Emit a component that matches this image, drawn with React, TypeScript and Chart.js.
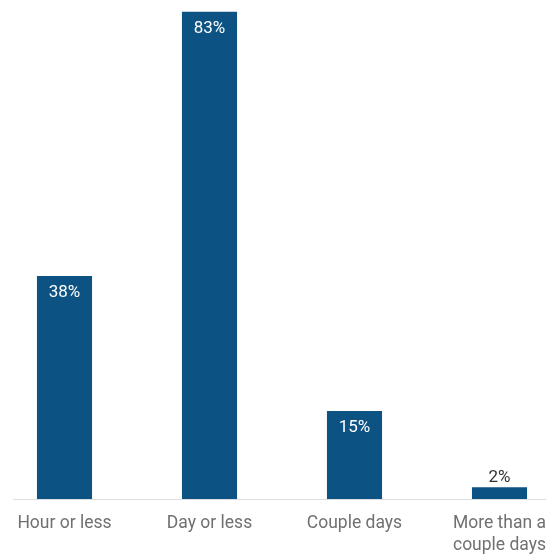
import React, { useEffect, useRef } from "react";
import { Chart, registerables } from "chart.js";

Chart.register(...registerables);

const categories: (string | string[])[] = [
  "Hour or less",
  "Day or less",
  "Couple days",
  ["More than a", "couple days"],
];
const values: number[] = [38, 83, 15, 2];

const BAR_COLOR = "#0c5383";

const valueLabelPlugin = {
  id: "valueLabels",
  afterDatasetsDraw(chart: any) {
    const ctx = chart.ctx;
    const meta = chart.getDatasetMeta(0);
    ctx.save();
    ctx.font = "17px Roboto";
    ctx.textAlign = "center";
    ctx.textBaseline = "middle";
    meta.data.forEach((bar: any, i: number) => {
      const h = bar.base - bar.y;
      const text = values[i] + "%";
      if (h > 30) {
        ctx.fillStyle = "#ffffff";
        ctx.fillText(text, bar.x, bar.y + 17);
      } else {
        ctx.fillStyle = "#333333";
        ctx.fillText(text, bar.x, bar.y - 10);
      }
    });
    ctx.restore();
  },
};

const baselinePlugin = {
  id: "baseline",
  afterDatasetsDraw(chart: any) {
    const ctx = chart.ctx;
    const y = Math.round(chart.scales.y.getPixelForValue(0)) + 0.5;
    ctx.save();
    ctx.strokeStyle = "#dddddd";
    ctx.lineWidth = 1;
    ctx.beginPath();
    ctx.moveTo(21, y);
    ctx.lineTo(554, y);
    ctx.stroke();
    ctx.restore();
  },
};

export default function App() {
  const ref = useRef<HTMLCanvasElement | null>(null);

  useEffect(() => {
    document.documentElement.style.overflow = "hidden";
    document.body.style.overflow = "hidden";
    if (!ref.current) return;
    const chart = new Chart(ref.current, {
      type: "bar",
      data: {
        labels: categories,
        datasets: [
          {
            data: values,
            backgroundColor: BAR_COLOR,
            categoryPercentage: 1,
            barPercentage: 0.38,
          },
        ],
      },
      options: {
        animation: false,
        responsive: false,
        maintainAspectRatio: false,
        layout: { padding: 0 },
        plugins: {
          legend: { display: false },
          tooltip: { enabled: false },
        },
        scales: {
          x: {
            grid: { display: false },
            border: { display: false },
            afterFit: (scale: any) => {
              scale.height = 57;
            },
            ticks: {
              color: "#707070",
              font: { family: "Roboto", size: 17.5, lineHeight: 1.25 },
              padding: 6,
              autoSkip: false,
              maxRotation: 0,
            },
          },
          y: {
            display: false,
            min: 0,
            max: 85,
          },
        },
      },
      plugins: [baselinePlugin, valueLabelPlugin],
    });
    return () => chart.destroy();
  }, []);

  return (
    <div style={{ position: "absolute", left: -8, top: 0, width: 580, height: 556 }}>
      <canvas ref={ref} width={580} height={556} style={{ display: "block" }} />
    </div>
  );
}
